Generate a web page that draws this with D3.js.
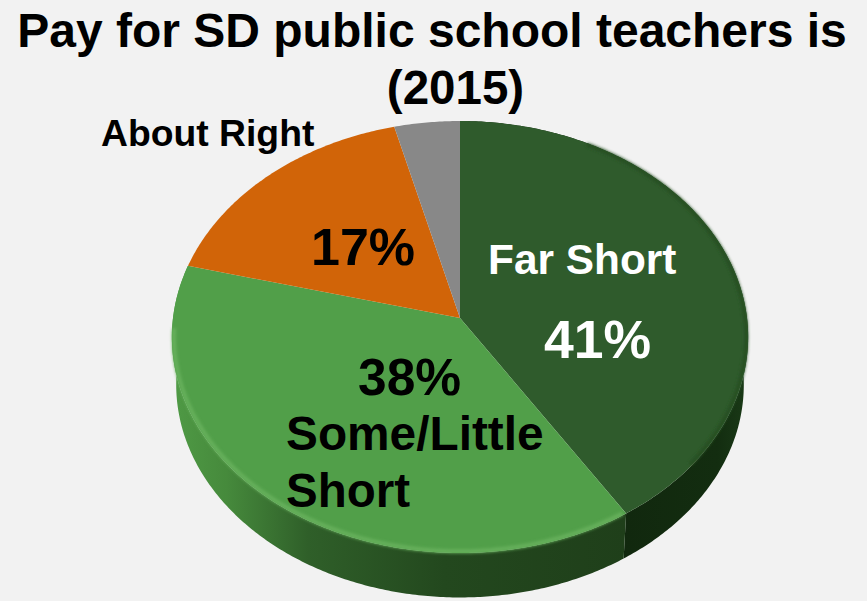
<!DOCTYPE html>
<html>
<head>
<meta charset="utf-8">
<script src="https://cdn.jsdelivr.net/npm/d3@7"></script>
<style>
	html, body { margin: 0; padding: 0; background: #f2f2f2; overflow: hidden; }
	text { font-family: "Liberation Sans", Arial, sans-serif; font-weight: bold; }
</style>
</head>
<body>
<script>
const categories = [ "Far Short", "Some/Little Short", "About Right", "Other" ];
const values = [ 41, 38, 17, 4 ];
const titleLines = [ "Pay for SD public school teachers is", "(2015)" ];
const sliceColors = [ "#2f5b2c", "#519f49", "#d16408", "#888888" ];

const width = 867, height = 601;

const svg = d3.select( "body" ).append( "svg" )
	.attr( "width", width )
	.attr( "height", height )
	.style( "display", "block" );

svg.append( "rect" )
	.attr( "width", width )
	.attr( "height", height )
	.attr( "fill", "#f2f2f2" );

// slight perspective: the pie apex sits above the middle of the ellipse
const apex = { x: 460, y: 318 }, rx = 287, ry = 214.3, tilt = -0.088;
const depth = 48, shrink = 0.985;

function project( angle, floor ) {
	const ux = Math.sin( angle ), uy = -Math.cos( angle );
	const w = 1 + tilt * uy;
	const s = floor ? shrink : 1;
	return [
		apex.x + s * rx * ux / w,
		apex.y + ( floor ? depth : 0 ) + s * ry * uy / w
	];
}

function arcPoints( a0, a1, floor ) {
	const n = Math.max( 2, Math.ceil( Math.abs( a1 - a0 ) / 0.01 ) );
	return d3.range( n + 1 ).map( i => project( a0 + ( a1 - a0 ) * i / n, floor ) );
}

const line = d3.line();
const slices = d3.pie().sort( null ).value( d => d )( values );

const defs = svg.append( "defs" );

const wallGreen = defs.append( "linearGradient" )
	.attr( "id", "wallGreen" )
	.attr( "gradientUnits", "userSpaceOnUse" )
	.attr( "x1", 172 ).attr( "x2", 626 ).attr( "y1", 0 ).attr( "y2", 0 );
[ [ 0, "#4f9a45" ], [ 0.12, "#468a3c" ], [ 0.3, "#2f5f29" ], [ 0.6, "#23481e" ], [ 1, "#1f3f1a" ] ]
	.forEach( d => wallGreen.append( "stop" ).attr( "offset", d[ 0 ] ).attr( "stop-color", d[ 1 ] ) );

const wallDark = defs.append( "linearGradient" )
	.attr( "id", "wallDark" )
	.attr( "gradientUnits", "userSpaceOnUse" )
	.attr( "x1", 625 ).attr( "x2", 748 ).attr( "y1", 0 ).attr( "y2", 0 );
[ [ 0, "#11280e" ], [ 0.75, "#132d10" ], [ 1, "#1a3a17" ] ]
	.forEach( d => wallDark.append( "stop" ).attr( "offset", d[ 0 ] ).attr( "stop-color", d[ 1 ] ) );

defs.append( "filter" ).attr( "id", "soft" )
	.attr( "x", "-10%" ).attr( "y", "-10%" ).attr( "width", "120%" ).attr( "height", "120%" )
	.append( "feGaussianBlur" ).attr( "stdDeviation", 1.4 );

// side wall, only the two front slices show one
const wallFills = [ "url(#wallDark)", "url(#wallGreen)" ];
svg.append( "g" ).selectAll( "path" )
	.data( slices.slice( 0, 2 ) )
	.enter()
	.append( "path" )
	.attr( "fill", ( d, i ) => wallFills[ i ] )
	.attr( "d", d => line(
		arcPoints( d.startAngle, d.endAngle, false )
			.concat( arcPoints( d.endAngle, d.startAngle, true ) )
	) + "Z" );

// top face
const face = svg.append( "g" );
face.selectAll( "path" )
	.data( slices )
	.enter()
	.append( "path" )
	.attr( "fill", ( d, i ) => sliceColors[ i ] )
	.attr( "d", d => line(
		[ [ apex.x, apex.y ] ].concat( arcPoints( d.startAngle, d.endAngle, false ) )
	) + "Z" );

// bevel along the front rim
const rimColors = [ "#274f23", "#66b05b" ];
face.selectAll( ".rim" )
	.data( slices.slice( 0, 2 ) )
	.enter()
	.append( "path" )
	.attr( "class", "rim" )
	.attr( "fill", "none" )
	.attr( "stroke", ( d, i ) => rimColors[ i ] )
	.attr( "stroke-width", 4 )
	.attr( "filter", "url(#soft)" )
	.attr( "d", d => line( arcPoints( d.startAngle + ( d.index ? 0.01 : 0.5 ), d.endAngle - 0.3, false ).map( p => [
		apex.x + ( p[ 0 ] - apex.x ) * 0.993,
		apex.y + ( p[ 1 ] - apex.y ) * 0.993
	] ) ) );

function label( txt, x, y, size, color ) {
	svg.append( "text" )
		.attr( "x", x )
		.attr( "y", y )
		.attr( "font-size", size )
		.attr( "fill", color || "#000" )
		.text( txt );
}

svg.append( "text" ).attr( "x", 432 ).attr( "y", 47 ).attr( "text-anchor", "middle" )
	.attr( "font-size", 48 ).attr( "fill", "#000" ).text( titleLines[ 0 ] );
svg.append( "text" ).attr( "x", 455.5 ).attr( "y", 104 ).attr( "text-anchor", "middle" )
	.attr( "font-size", 47.5 ).attr( "fill", "#000" ).text( titleLines[ 1 ] );

label( categories[ 2 ], 101, 146, 37.3 );
label( values[ 2 ] + "%", 311, 265, 52 );
label( categories[ 0 ], 488, 274, 42.4, "#fff" );
label( values[ 0 ] + "%", 544, 358, 53.5, "#fff" );
label( values[ 1 ] + "%", 358, 395, 51.5 );
label( categories[ 1 ].split( " " )[ 0 ], 286, 450, 47.8 );
label( categories[ 1 ].split( " " )[ 1 ], 286, 507, 47.5 );
</script>
</body>
</html>
